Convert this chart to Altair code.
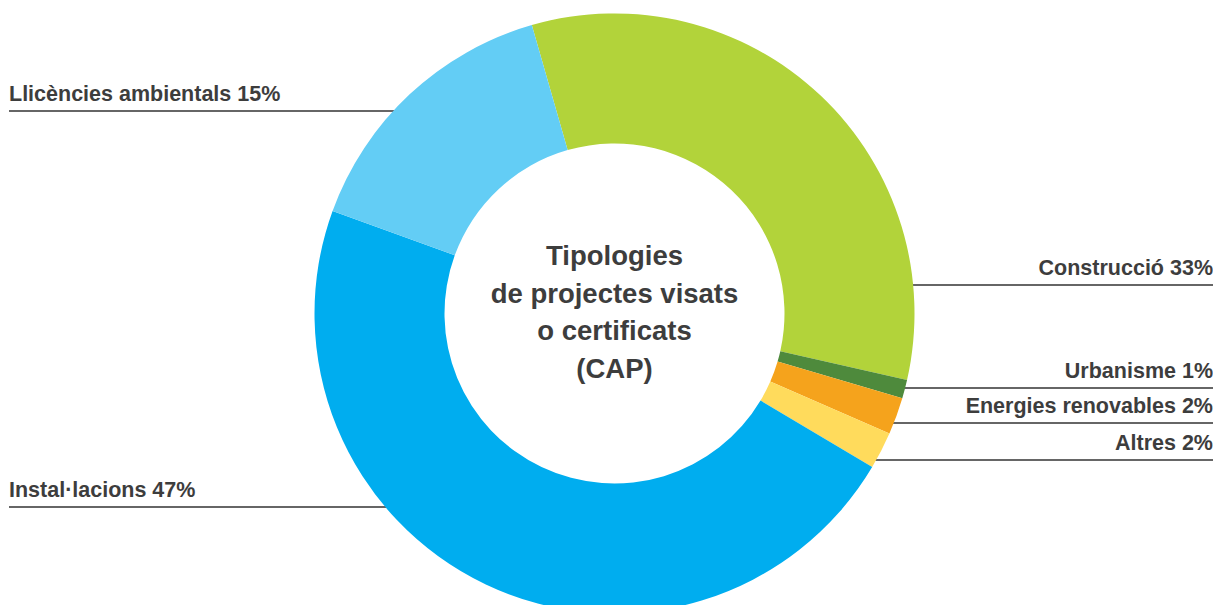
import math
import altair as alt
import pandas as pd

# ---- data ----
CATEGORIES = ["Construcció", "Urbanisme", "Energies renovables", "Altres",
              "Instal·lacions", "Llicències ambientals"]
PERCENTS = [33, 1, 2, 2, 47, 15]
COLORS = ["#b2d33a", "#4e8a3c", "#f5a31c", "#ffdb5c", "#00adef", "#63cdf5"]
CENTER_LINES = ["Tipologies", "de projectes visats", "o certificats", "(CAP)"]

# ---- layout (chart pixel coordinates) ----
SIDES = ["right", "right", "right", "right", "left", "left"]
LEADER_Y = [277, 380, 415, 452, 499, 103]
W, H = 1205, 597
CX, CY = 606.5, 305.5
R_OUT, R_IN = 300, 170
START = math.radians(-16)
TEXT_COLOR = "#3d3d3d"
FONT = "Liberation Sans"

df = pd.DataFrame({"cat": CATEGORIES, "pct": PERCENTS, "order": list(range(len(CATEGORIES)))})

rows = []
for c, p, s, ly in zip(CATEGORIES, PERCENTS, SIDES, LEADER_Y):
    dx = math.sqrt(max(R_OUT ** 2 - (ly - CY) ** 2, 0)) - 4
    if s == "right":
        x_edge, x_far = CX + dx, W
    else:
        x_edge, x_far = CX - dx, 1
    rows.append({"label": f"{c} {p}%", "side": s, "ly": ly, "ty": ly - 10,
                 "x1": x_edge, "x2": x_far, "tx": x_far})
lab = pd.DataFrame(rows)

xs = alt.Scale(domain=[0, W], nice=False, zero=False)
ys = alt.Scale(domain=[H, 0], nice=False, zero=False)

rules = alt.Chart(lab).mark_rule(color="#333333", strokeWidth=1.5).encode(
    x=alt.X("x1:Q", scale=xs, axis=None),
    x2="x2:Q",
    y=alt.Y("ly:Q", scale=ys, axis=None),
)

arcs = alt.Chart(df).mark_arc(outerRadius=R_OUT, innerRadius=R_IN).encode(
    theta=alt.Theta("pct:Q", stack=True,
                    scale=alt.Scale(range=[2 * math.pi + START, 4 * math.pi + START])),
    color=alt.Color("cat:N", scale=alt.Scale(domain=CATEGORIES, range=COLORS), legend=None),
    order=alt.Order("order:Q"),
    x=alt.value(CX),
    y=alt.value(CY),
)

def side_text(side, align):
    return alt.Chart(lab).transform_filter(alt.datum.side == side).mark_text(
        font=FONT, fontSize=21.5, fontWeight="bold", color=TEXT_COLOR,
        align=align, baseline="alphabetic",
    ).encode(
        x=alt.X("tx:Q", scale=xs, axis=None),
        y=alt.Y("ty:Q", scale=ys, axis=None),
        text="label:N",
    )

center = alt.Chart(df).transform_filter(alt.datum.order == 0).mark_text(
    font=FONT, fontSize=27.5, fontWeight="bold", color=TEXT_COLOR,
    align="center", baseline="alphabetic", lineHeight=37.5, text=CENTER_LINES,
).encode(x=alt.value(CX), y=alt.value(257))

chart = alt.layer(rules, arcs, side_text("left", "left"), side_text("right", "right"), center).properties(
    width=W, height=H, padding=0, autosize="none"
).configure_view(stroke=None)

chart.save("out.html", embed_options={"renderer": "svg", "actions": False})
